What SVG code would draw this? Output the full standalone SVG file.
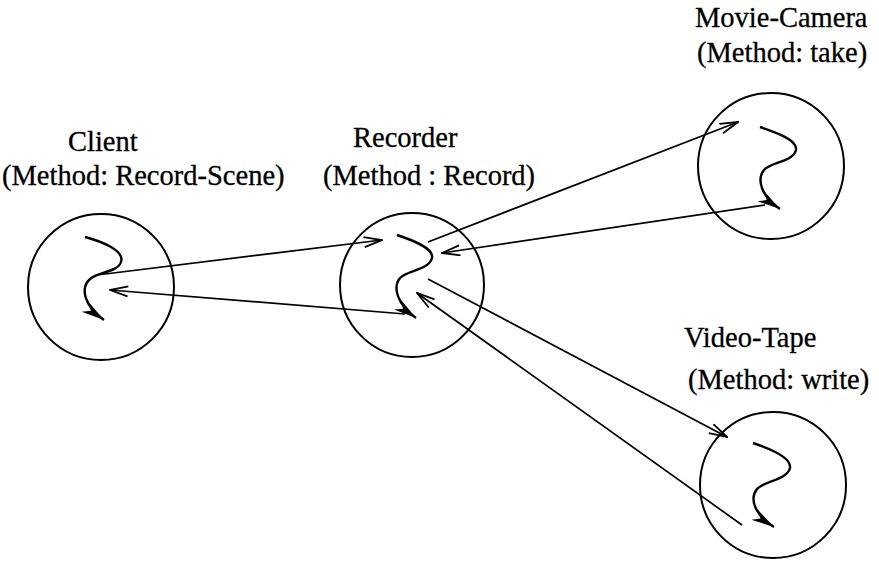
<svg xmlns="http://www.w3.org/2000/svg" width="879" height="563" viewBox="0 0 879 563">
<defs>
<marker id="open" viewBox="0 0 20 12" refX="19" refY="6" markerWidth="20" markerHeight="12" markerUnits="userSpaceOnUse" orient="auto">
<path d="M1,1 L19,6 L1,11" fill="none" stroke="#000" stroke-width="1.8"/>
</marker>
<marker id="solid" viewBox="0 0 24 14" refX="23" refY="7" markerWidth="24" markerHeight="14" markerUnits="userSpaceOnUse" orient="auto">
<path d="M0,1 L23,7 L0,13 L7,7 Z" fill="#000"/>
</marker>
<style>
.c{fill:none;stroke:#000;stroke-width:2}
.s{fill:none;stroke:#000;stroke-width:2.4;marker-end:url(#solid)}
.l{stroke:#000;stroke-width:1.7;marker-end:url(#open)}
text{font-family:"Liberation Serif","Times New Roman",serif;font-size:28.5px;fill:#000;stroke:#000;stroke-width:0.3}
</style>
</defs>
<rect width="879" height="563" fill="#fff"/>
<g id="client">
<circle class="c" cx="101" cy="287" r="73"/>
<path class="s" d="M85,237 C100,241 125,250 121,262 C118,272 98,272 90,279 C80,288 84,306 104,320"/>
<text x="68" y="151">Client</text>
<text x="2" y="185">(Method: Record-Scene)</text>
</g>
<g id="recorder">
<circle class="c" cx="412" cy="285" r="72"/>
<path class="s" d="M397,235 C412,240 434,248 432,258 C429,270 408,270 400,278 C392,288 398,305 416,318"/>
<text x="353" y="147">Recorder</text>
<text x="323" y="185">(Method : Record)</text>
</g>
<g id="movie-camera">
<circle class="c" cx="771" cy="166" r="73"/>
<path class="s" d="M760,127 C775,132 798,140 796,150 C793,162 771,162 764,170 C756,180 762,197 780,209"/>
<text x="695" y="27">Movie-Camera</text>
<text x="697" y="62">(Method: take)</text>
</g>
<g id="video-tape">
<circle class="c" cx="773" cy="485" r="73"/>
<path class="s" d="M753,443 C768,448 792,457 790,468 C787,480 764,481 757,489 C749,499 755,515 774,527"/>
<text x="684" y="347">Video-Tape</text>
<text x="688" y="389">(Method: write)</text>
</g>
<g id="connectors">
<line class="l" x1="97" y1="275" x2="382" y2="240"/>
<line class="l" x1="405" y1="314" x2="110" y2="290"/>
<line class="l" x1="428" y1="242" x2="738" y2="122"/>
<line class="l" x1="765" y1="205" x2="442" y2="253"/>
<line class="l" x1="428" y1="279" x2="727" y2="437"/>
<line class="l" x1="742" y1="525" x2="417" y2="293"/>
</g>
</svg>
